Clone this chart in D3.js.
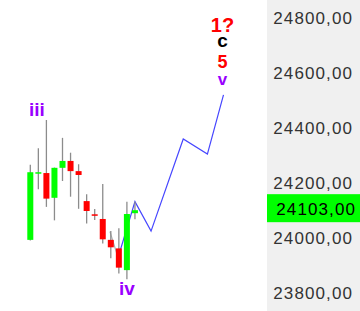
<!DOCTYPE html>
<html>
<head>
<meta charset="utf-8">
<script src="https://cdn.jsdelivr.net/npm/d3@7"></script>
<style>
  body { margin: 0; background: #ffffff; }
  #svgWrapper { width: 360px; height: 311px; }
</style>
</head>
<body>
<div id="svgWrapper"></div>
<script>
// candle data, one entry per bar
var candleOpen  = [23995, 24236, 24238, 24148, 24257, 24282, 24245, 24136, 24088, 24071, 23995, 23964, 23885, 24092];
var candleHigh  = [24268, 24328, 24431, 24258, 24366, 24312, 24270, 24161, 24107, 24198, 24027, 24037, 24134, 24134];
var candleLow   = [23993, 24179, 24115, 24066, 24209, 24152, 24108, 24055, 24067, 23982, 23928, 23873, 23852, 24070];
var candleClose = [24241, 24241, 24145, 24257, 24282, 24245, 24231, 24100, 24083, 23997, 23968, 23894, 24089, 24103];

// projected wave path (bar index, price)
var waveBars   = [11, 13, 15, 19, 22, 24];
var wavePrices = [23940, 24134, 24027, 24362, 24307, 24522];

// small grey drawing between bar 10 and 11
var greyBars   = [9.9, 10.85];
var greyPrices = [24025, 23935];

var yTicks = [23800, 24000, 24200, 24400, 24600, 24800];
var lastPrice = 24103;

// wave counts
var topLabels  = ["v", "5", "c", "1?"];
var topColors  = ["#9900ff", "#ff0000", "#000000", "#ff0000"];
var topSizes   = [17, 18, 19, 20];
var topOffsets = [10, 27, 48, 63];

var fullWidth = 360;
var fullHeight = 311;
var panelX = 267;

var svg = d3.select("#svgWrapper")
  .append("svg")
  .attr("width", fullWidth)
  .attr("height", fullHeight)
  .append("g");

// backgrounds
svg.append("rect").attr("width", fullWidth).attr("height", fullHeight).attr("fill", "#ffffff");
svg.append("rect").attr("x", panelX).attr("width", fullWidth - panelX).attr("height", fullHeight).attr("fill", "#f0f0f0");

var xScale = d3.scaleLinear().domain([0, 24]).range([30.3, 223.5]);
var yScale = d3.scaleLinear().domain([23800, 24800]).range([293.5, 18.5]);

// price axis
var yAxis = svg.append("g")
  .attr("transform", "translate(353,0)")
  .call(d3.axisLeft(yScale).tickValues(yTicks).tickSize(0).tickPadding(0)
    .tickFormat(function(d) { return d3.format(".2f")(d).replace(".", ","); }));
yAxis.select(".domain").remove();
yAxis.selectAll("text")
  .style("font-family", "'Liberation Sans', Arial, sans-serif")
  .style("font-size", "17px")
  .style("letter-spacing", "1.1px")
  .style("fill", "#333333");

// last price box
var lastY = yScale(lastPrice);
svg.append("rect")
  .attr("x", panelX)
  .attr("y", lastY - 16)
  .attr("width", fullWidth - panelX)
  .attr("height", 28)
  .attr("fill", "#00ff00");
svg.append("text")
  .attr("x", 356)
  .attr("y", lastY + 5)
  .style("text-anchor", "end")
  .style("font-family", "'Liberation Sans', Arial, sans-serif")
  .style("font-size", "17px")
  .style("letter-spacing", "1.1px")
  .style("fill", "#000000")
  .text(d3.format(".2f")(lastPrice).replace(".", ","));

// wave projection line (behind candles)
var line = d3.line()
  .x(function(d) { return xScale(d[0]); })
  .y(function(d) { return yScale(d[1]); });

svg.append("path")
  .attr("d", line(waveBars.map(function(b, i) { return [b, wavePrices[i]]; })))
  .attr("fill", "none")
  .attr("stroke", "#4646ff")
  .attr("stroke-width", 1.2);

svg.append("path")
  .attr("d", line(greyBars.map(function(b, i) { return [b, greyPrices[i]]; })))
  .attr("fill", "none")
  .attr("stroke", "#b0b0b0")
  .attr("stroke-width", 1.2);

// candles
for (var i = 0; i < candleOpen.length; i++) {
  var cx = xScale(i);
  var up = candleClose[i] >= candleOpen[i];
  svg.append("line")
    .attr("x1", cx).attr("x2", cx)
    .attr("y1", yScale(candleHigh[i]))
    .attr("y2", yScale(candleLow[i]))
    .attr("stroke", "#8c8c8c")
    .attr("stroke-width", 1.3);
  var bodyTop = yScale(Math.max(candleOpen[i], candleClose[i]));
  var bodyBot = yScale(Math.min(candleOpen[i], candleClose[i]));
  svg.append("rect")
    .attr("x", cx - 3)
    .attr("y", bodyTop)
    .attr("width", 6)
    .attr("height", Math.max(bodyBot - bodyTop, 1.5))
    .attr("fill", up ? "#00ff00" : "#ff0000");
}

// wave labels on the bars
svg.append("text")
  .attr("x", xScale(1) - 1.5)
  .attr("y", yScale(candleHigh[2]) - 4)
  .style("text-anchor", "middle")
  .style("font-family", "'Liberation Sans', Arial, sans-serif")
  .style("font-weight", "bold")
  .style("font-size", "19px")
  .style("fill", "#9900ff")
  .text("iii");

svg.append("text")
  .attr("x", xScale(12))
  .attr("y", yScale(candleLow[12]) + 16)
  .style("text-anchor", "middle")
  .style("font-family", "'Liberation Sans', Arial, sans-serif")
  .style("font-weight", "bold")
  .style("font-size", "19px")
  .style("fill", "#9900ff")
  .text("iv");

// stacked counts above the projected end
var endX = xScale(waveBars[waveBars.length - 1]) - 1;
var endY = yScale(wavePrices[wavePrices.length - 1]);
for (var p = 0; p < topLabels.length; p++) {
  svg.append("text")
    .attr("x", endX)
    .attr("y", endY - topOffsets[p])
    .style("text-anchor", "middle")
    .style("font-family", "'Liberation Sans', Arial, sans-serif")
    .style("font-weight", "bold")
    .style("font-size", topSizes[p] + "px")
    .style("fill", topColors[p])
    .text(topLabels[p]);
}
</script>
</body>
</html>
